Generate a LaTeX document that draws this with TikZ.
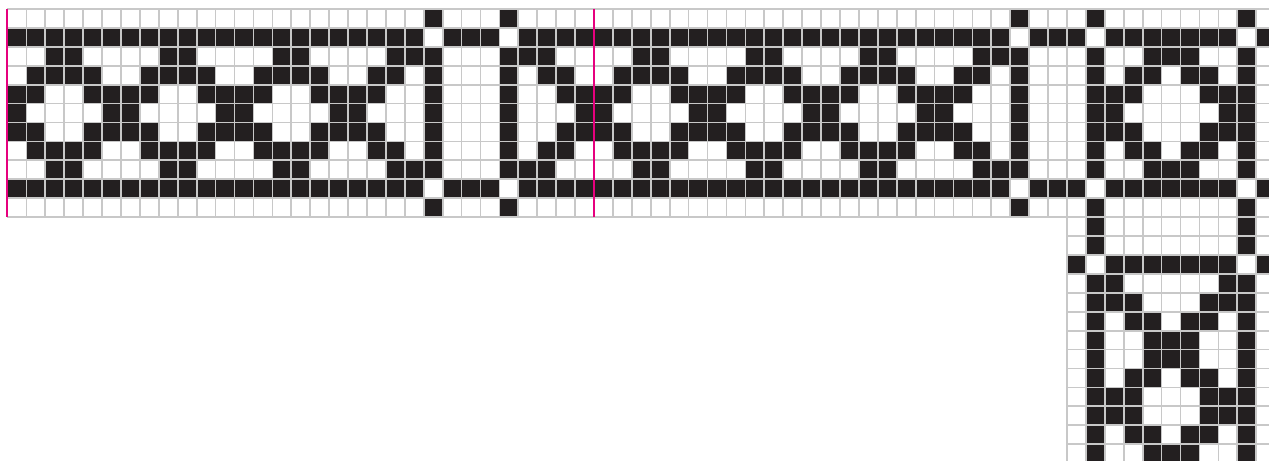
\documentclass[tikz,border=0pt]{standalone}
\definecolor{stitchblack}{HTML}{231F20}
\definecolor{gridgray}{HTML}{C8C8C8}
\definecolor{repeatpink}{HTML}{E6007E}
\tikzset{
  stitch/.style={fill=stitchblack},
  chartgrid/.style={draw=gridgray, line width=1.3pt},
  repeatline/.style={draw=repeatpink, line width=1.5pt},
}
\newcommand{\stitchcol}[2]{\foreach \r in {#2} {\fill[stitch] (#1,-\r) rectangle ++(1,-1);}}
\newcommand{\stitchrow}[2]{\foreach \k in {#2} {\fill[stitch] (\k,-#1) rectangle ++(1,-1);}}

\begin{document}
\begin{tikzpicture}[scale=0.5]
    \useasboundingbox (-0.396,0.476) rectangle (66.676,-23.89);
    \clip (-0.396,0.476) rectangle (66.676,-23.89);
    % motif columns along the border
    \foreach \c in {0,5,6,11,12,17,18,30,31,36,37,42,43,48,49,58,64} {\stitchcol{\c}{4,5,6}}
    \foreach \c in {1,4,7,10,13,16,19,29,32,35,38,41,44,47,50,59,63} {\stitchcol{\c}{3,4,6,7}}
    \foreach \c in {2,3,8,9,14,15,20,28,33,34,39,40,45,46,51,60,62} {\stitchcol{\c}{2,3,7,8}}
    \foreach \c in {21,27,52,61} {\stitchcol{\c}{2,8}}
    % frame bars
    \foreach \c in {22,26,53,57,65} {\stitchcol{\c}{0,2,3,4,5,6,7,8,10}}
    \foreach \a/\b in {0/22,23/26,27/53,54/57,58/65,66/67} {
      \fill[stitch] (\a,-1) rectangle (\b,-2);
      \fill[stitch] (\a,-9) rectangle (\b,-10);
    }
    % corner turning down
    \foreach \c in {57,65} {\stitchcol{\c}{11,12,14,15,16,17,18,19,20,21,22,23}}
    \stitchrow{13}{56,58,59,60,61,62,63,64,66}
    \stitchrow{14}{58,64}
    \foreach \R in {15,20,21} {\stitchrow{\R}{58,59,63,64}}
    \foreach \R in {16,19,22} {\stitchrow{\R}{59,60,62,63}}
    \foreach \R in {17,18,23} {\stitchrow{\R}{60,61,62}}
    % grid and repeat marks
    \draw[chartgrid] (0,0) grid (67,-11);
    \draw[chartgrid] (56,-11) grid (67,-24);
    \foreach \c in {0,31} {\draw[repeatline] (\c,0) -- (\c,-11);}
\end{tikzpicture}
\end{document}
